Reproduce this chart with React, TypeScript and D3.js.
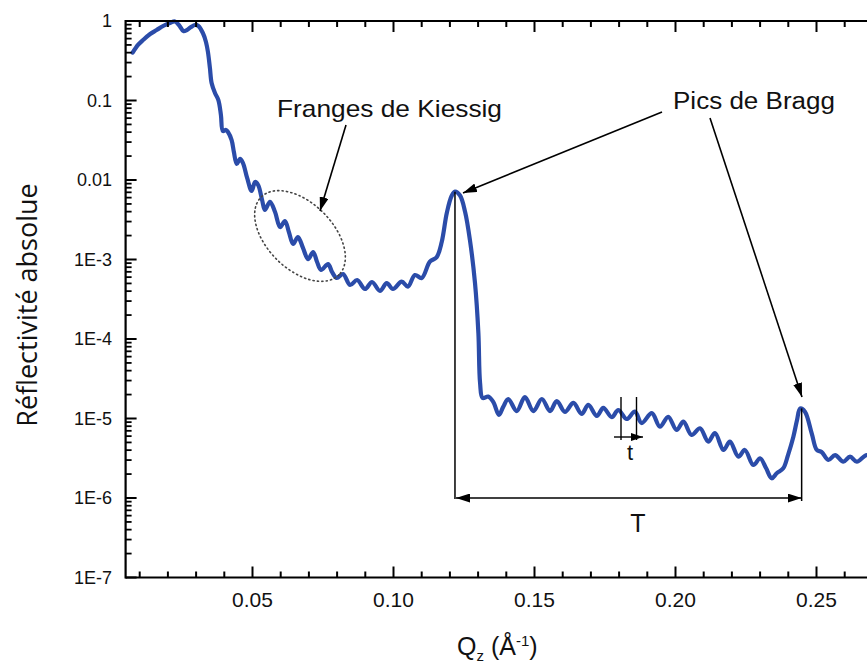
import React from "react";
import * as d3 from "d3";

const qValues = [
  0.0075, 0.0094, 0.0112, 0.0137, 0.016, 0.0183, 0.0207, 0.0225, 0.0239, 0.0255,
  0.0267, 0.0282, 0.0296, 0.0308, 0.0324, 0.0335, 0.0342, 0.0349, 0.0355, 0.0367,
  0.0379, 0.0388, 0.0395, 0.0406, 0.0413, 0.0426, 0.0434, 0.0444, 0.0456, 0.0466,
  0.0481, 0.0497, 0.0509, 0.052, 0.0534, 0.0544, 0.0562, 0.058, 0.0598, 0.0615,
  0.0629, 0.0644, 0.0661, 0.0679, 0.0697, 0.0715, 0.0729, 0.0743, 0.0768, 0.0782,
  0.0799, 0.0821, 0.0846, 0.0871, 0.0899, 0.0924, 0.0952, 0.0976, 0.0998, 0.1029,
  0.1051, 0.1076, 0.11, 0.1129, 0.1153, 0.1171, 0.1189, 0.1206, 0.1218, 0.1236,
  0.1254, 0.1271, 0.1289, 0.1301, 0.1307, 0.1316, 0.1336, 0.1354, 0.1374, 0.1389,
  0.1407, 0.1437, 0.1466, 0.1496, 0.1526, 0.1555, 0.1579, 0.1608, 0.1638, 0.1667,
  0.1691, 0.1721, 0.1744, 0.1774, 0.1797, 0.1827, 0.1856, 0.188, 0.1916, 0.1945,
  0.1974, 0.2004, 0.2028, 0.2057, 0.2087, 0.2116, 0.214, 0.217, 0.2193, 0.2223,
  0.2246, 0.2276, 0.23, 0.2321, 0.2341, 0.2359, 0.2382, 0.2399, 0.2418, 0.2431,
  0.2442, 0.2459, 0.2483, 0.2501, 0.2518, 0.2542, 0.2566, 0.2595, 0.2619, 0.2643,
  0.2678, 0.2697,
];

const reflectivity = [
  0.4, 0.5, 0.577, 0.686, 0.77, 0.865, 0.944, 0.986, 0.891, 0.748,
  0.77, 0.84, 0.891, 0.865, 0.706, 0.545, 0.407, 0.256, 0.166, 0.124,
  0.1014, 0.0658, 0.0413, 0.0426, 0.0402, 0.0318, 0.0225, 0.0159, 0.0184, 0.0164,
  0.0106, 0.00728, 0.00944, 0.00865, 0.0056, 0.0042, 0.00533, 0.00395, 0.00256, 0.00305,
  0.00222, 0.00157, 0.00192, 0.0014, 0.00101, 0.00124, 0.00093, 0.000738, 0.000877, 0.000697,
  0.000585, 0.000657, 0.000478, 0.000552, 0.000426, 0.000521, 0.000402, 0.000506, 0.000426, 0.000526,
  0.000455, 0.000638, 0.000585, 0.000938, 0.00107, 0.00166, 0.00385, 0.00629, 0.00713, 0.00638,
  0.00396, 0.00176, 0.000506, 0.000119, 2.8e-5, 1.81e-5, 1.89e-5, 1.61e-5, 1.11e-5, 1.4e-5,
  1.76e-5, 1.24e-5, 1.86e-5, 1.24e-5, 1.76e-5, 1.24e-5, 1.66e-5, 1.21e-5, 1.57e-5, 1.14e-5,
  1.48e-5, 1.08e-5, 1.36e-5, 1.04e-5, 1.28e-5, 9.86e-6, 1.22e-5, 8.77e-6, 1.17e-5, 7.88e-6,
  1.05e-5, 7.17e-6, 9.12e-6, 6.2e-6, 7.53e-6, 5.11e-6, 6.57e-6, 4.02e-6, 5.11e-6, 3.31e-6,
  4.02e-6, 2.6e-6, 3.16e-6, 2.38e-6, 1.77e-6, 2.05e-6, 2.36e-6, 3.47e-6, 5.9e-6, 9.57e-6,
  1.34e-5, 1.22e-5, 6.52e-6, 4.02e-6, 3.79e-6, 3.01e-6, 3.47e-6, 2.86e-6, 3.31e-6, 2.86e-6,
  3.47e-6, 3.01e-6,
];

const xTickValues = [0.05, 0.1, 0.15, 0.2, 0.25];
const xTickLabels = ["0.05", "0.10", "0.15", "0.20", "0.25"];
const yTickValues = [1, 0.1, 0.01, 1e-3, 1e-4, 1e-5, 1e-6, 1e-7];
const yTickLabels = ["1", "0.1", "0.01", "1E-3", "1E-4", "1E-5", "1E-6", "1E-7"];

const braggQ = [0.1218, 0.2442];
const braggR = [0.00713, 1.34e-5];

const W = 867;
const H = 663;
const FONT = "'Liberation Sans', Arial, sans-serif";
const BLUE = "#2b4ca9";

export default function App() {
  const x = d3.scaleLinear().domain([0.005, 0.27]).range([125.6, 872.9]);
  const y = d3.scaleLog().domain([1e-7, 1]).range([577.5, 21]);
  const left = x(0.005);
  const bottom = y(1e-7);
  const top = y(1);

  const line = d3
    .line<number>()
    .x((_, i) => x(qValues[i]))
    .y((d) => y(d))
    .curve(d3.curveCatmullRom.alpha(0.5));

  const xMinor = d3.range(1, 28).map((k) => k / 100).filter((v) => Math.abs(v * 20 - Math.round(v * 20)) > 1e-6);
  const yMinor: number[] = [];
  for (let e = -7; e < 0; e++) for (let m = 2; m <= 9; m++) yMinor.push(m * Math.pow(10, e));

  const major = 11;
  const minor = 6;

  const tY = y(1.0e-6);
  const p1x = x(braggQ[0]);
  const p2x = x(braggQ[1]) + 1.5;

  return (
    <svg width={W} height={H} style={{ position: "absolute", left: 0, top: 0, background: "#fff" }} fontFamily={FONT}>
      <defs>
        <marker id="ah" viewBox="0 0 14 9" refX="14" refY="4.5" markerWidth="14" markerHeight="9" markerUnits="userSpaceOnUse" orient="auto-start-reverse">
          <path d="M0,0 L14,4.5 L0,9 z" fill="#000" />
        </marker>
        <marker id="ahs" viewBox="0 0 12 8" refX="12" refY="4" markerWidth="12" markerHeight="8" markerUnits="userSpaceOnUse" orient="auto-start-reverse">
          <path d="M0,0 L12,4 L0,8 z" fill="#000" />
        </marker>
      </defs>
      <rect x={0} y={0} width={W} height={H} fill="#fff" />

      {/* data curve */}
      <path d={line(reflectivity) || ""} fill="none" stroke={BLUE} strokeWidth={4.2} strokeLinejoin="round" strokeLinecap="round" />

      {/* frame */}
      <line x1={left} x2={W + 5} y1={bottom} y2={bottom} stroke="#000" strokeWidth={2.2} />
      <line x1={left} x2={W + 5} y1={top} y2={top} stroke="#000" strokeWidth={2.2} />
      <line x1={left} x2={left} y1={top - 1} y2={bottom + 1} stroke="#000" strokeWidth={2.2} />

      {/* x ticks bottom & top */}
      {xTickValues.map((v) => (
        <g key={"xM" + v}>
          <line x1={x(v)} x2={x(v)} y1={bottom} y2={bottom - major} stroke="#000" strokeWidth={2} />
          <line x1={x(v)} x2={x(v)} y1={top} y2={top + major} stroke="#000" strokeWidth={2} />
        </g>
      ))}
      {xMinor.map((v) => (
        <g key={"xm" + v}>
          <line x1={x(v)} x2={x(v)} y1={bottom} y2={bottom - minor} stroke="#000" strokeWidth={2} />
          <line x1={x(v)} x2={x(v)} y1={top} y2={top + minor} stroke="#000" strokeWidth={2} />
        </g>
      ))}
      {xTickValues.map((v, i) => (
        <text key={"xl" + v} x={x(v)} y={607} fontSize={21} textAnchor="middle" fill="#111">
          {xTickLabels[i]}
        </text>
      ))}

      {/* y ticks */}
      {yTickValues.map((v) => (
        <line key={"yM" + v} x1={left} x2={left + major} y1={y(v)} y2={y(v)} stroke="#000" strokeWidth={2} />
      ))}
      {yMinor.map((v) => (
        <line key={"ym" + v} x1={left} x2={left + minor} y1={y(v)} y2={y(v)} stroke="#000" strokeWidth={1.8} />
      ))}
      {yTickValues.map((v, i) => (
        <text key={"yl" + v} x={112} y={y(v)} dy="0.36em" fontSize={18} textAnchor="end" fill="#111">
          {yTickLabels[i]}
        </text>
      ))}

      {/* axis titles */}
      <text transform="translate(37,305) rotate(-90)" textAnchor="middle" fontSize={27} fontFamily="'Open Sans', sans-serif" fill="#111">
        Réflectivité absolue
      </text>
      <text x={457} y={655} fontSize={25} fill="#111">
        Q
        <tspan fontSize={15} dy={6}>z</tspan>
        <tspan fontSize={25} dy={-6}> (Å</tspan>
        <tspan fontSize={15} dy={-9}>-1</tspan>
        <tspan fontSize={25} dy={9}>)</tspan>
      </text>

      {/* Kiessig annotation */}
      <ellipse cx={300} cy={236} rx={55} ry={33} transform="rotate(45 300 236)" fill="none" stroke="#444" strokeWidth={1.6} strokeDasharray="1.2 3.2" strokeLinecap="round" />
      <text x={277} y={117} fontSize={24} textLength={225} lengthAdjust="spacingAndGlyphs" fill="#111">
        Franges de Kiessig
      </text>
      <line x1={346} y1={125} x2={320} y2={211} stroke="#000" strokeWidth={1.6} markerEnd="url(#ah)" />

      {/* Bragg annotation */}
      <text x={673} y={109} fontSize={23} textLength={162} lengthAdjust="spacingAndGlyphs" fill="#111">
        Pics de Bragg
      </text>
      <line x1={662} y1={112} x2={463} y2={193} stroke="#000" strokeWidth={1.6} markerEnd="url(#ah)" />
      <line x1={710} y1={118} x2={802} y2={397} stroke="#000" strokeWidth={1.6} markerEnd="url(#ah)" />

      {/* T period */}
      <line x1={p1x} x2={p1x} y1={y(braggR[0])} y2={tY + 1} stroke="#000" strokeWidth={1.5} />
      <line x1={p2x} x2={p2x} y1={y(braggR[1])} y2={tY + 3} stroke="#000" strokeWidth={1.5} />
      <line x1={p1x + 1} x2={p2x} y1={tY} y2={tY} stroke="#000" strokeWidth={1.6} markerStart="url(#ah)" markerEnd="url(#ah)" />
      <text x={638} y={532} fontSize={25} textAnchor="middle" fill="#111">T</text>

      {/* t period */}
      <line x1={621} x2={621} y1={397} y2={440} stroke="#000" strokeWidth={1.4} />
      <line x1={636.5} x2={636.5} y1={397} y2={440} stroke="#000" strokeWidth={1.4} />
      <line x1={614} x2={643} y1={437} y2={437} stroke="#000" strokeWidth={1.4} markerEnd="url(#ahs)" />
      <text x={630} y={460} fontSize={22} textAnchor="middle" fill="#111">t</text>
    </svg>
  );
}
